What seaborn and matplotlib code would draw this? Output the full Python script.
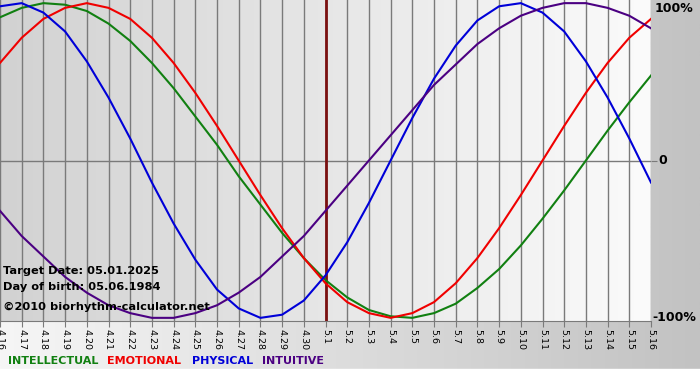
import numpy as np
import pandas as pd
import matplotlib
matplotlib.use('Agg')
import matplotlib.pyplot as plt
import seaborn as sns

# Day labels (month.day), target date 5.1 in the middle
day_labels = ['4.16', '4.17', '4.18', '4.19', '4.20', '4.21', '4.22', '4.23', '4.24', '4.25',
              '4.26', '4.27', '4.28', '4.29', '4.30', '5.1', '5.2', '5.3', '5.4', '5.5',
              '5.6', '5.7', '5.8', '5.9', '5.10', '5.11', '5.12', '5.13', '5.14', '5.15', '5.16']

# Rhythm values (-1 .. 1)
intellectual = [0.91, 0.97, 1.00, 0.99, 0.95, 0.87, 0.76, 0.62, 0.46, 0.28, 0.10, -0.10, -0.28, -0.46,
                -0.62, -0.76, -0.87, -0.95, -0.99, -1.00, -0.97, -0.91, -0.81, -0.69, -0.54, -0.37,
                -0.19, 0.00, 0.19, 0.37, 0.54]
emotional = [0.62, 0.78, 0.90, 0.97, 1.00, 0.97, 0.90, 0.78, 0.62, 0.43, 0.22, 0.00, -0.22, -0.43,
             -0.62, -0.78, -0.90, -0.97, -1.00, -0.97, -0.90, -0.78, -0.62, -0.43, -0.22, 0.00,
             0.22, 0.43, 0.62, 0.78, 0.90]
physical = [0.98, 1.00, 0.94, 0.82, 0.63, 0.40, 0.14, -0.14, -0.40, -0.63, -0.82, -0.94, -1.00, -0.98,
            -0.89, -0.73, -0.52, -0.27, 0.00, 0.27, 0.52, 0.73, 0.89, 0.98, 1.00, 0.94, 0.82, 0.63,
            0.40, 0.14, -0.14]
intuitive = [-0.32, -0.48, -0.61, -0.74, -0.84, -0.92, -0.97, -1.00, -1.00, -0.97, -0.92, -0.84, -0.74,
             -0.61, -0.48, -0.32, -0.16, 0.00, 0.16, 0.32, 0.48, 0.61, 0.74, 0.84, 0.92, 0.97, 1.00,
             1.00, 0.97, 0.92, 0.84]

rhythm_names = ['INTELLECTUAL', 'EMOTIONAL', 'PHYSICAL', 'INTUITIVE']
colors = {'INTELLECTUAL': '#118011', 'EMOTIONAL': '#f00000', 'PHYSICAL': '#0000d8', 'INTUITIVE': '#4b0082'}

target_idx = day_labels.index('5.1')
days = np.arange(len(day_labels)) - target_idx

df = pd.concat([
    pd.DataFrame({'day': days, 'value': vals, 'rhythm': name})
    for name, vals in zip(rhythm_names, [intellectual, emotional, physical, intuitive])
])

fig = plt.figure(figsize=(7, 3.8), dpi=100)

# outer background: light on the left, grey on the right
bg = fig.add_axes([0, 0, 1, 1])
grad = np.linspace(0, 1, 256).reshape(1, -1)
bg.imshow(grad, cmap=matplotlib.colors.LinearSegmentedColormap.from_list('o', ['#f6f6f6', '#c2c2c2']),
          aspect='auto', extent=[0, 1, 0, 1])
bg.axhspan(0, 0.03, color='white')
bg.set_xlim(0, 1)
bg.set_ylim(0, 1)
bg.axis('off')

ax = fig.add_axes([0, 59 / 380, 651 / 700, 321 / 380])
ymin, ymax = -1.02, 1.02
ax.imshow(grad, cmap=matplotlib.colors.LinearSegmentedColormap.from_list('i', ['#d2d2d2', '#fbfbfb']),
          aspect='auto', extent=[days[0], days[-1], ymin, ymax], zorder=0)

for d in days:
    ax.axvline(d, color='#7a7a7a', lw=1, zorder=1)
ax.axhline(0, color='#7a7a7a', lw=1, zorder=1)
ax.axvline(0, color='#7a1010', lw=2, zorder=1)

sns.lineplot(data=df, x='day', y='value', hue='rhythm', palette=colors, hue_order=rhythm_names,
             linewidth=1.5, legend=False, ax=ax, zorder=3)

ax.set_xlim(days[0], days[-1])
ax.set_ylim(ymin, ymax)
ax.set_xlabel('')
ax.set_ylabel('')
ax.set_xticks(days)
ax.set_xticklabels(day_labels, rotation=270, fontsize=6.8, va='top', ha='center')
ax.tick_params(axis='x', length=4, color='#7a7a7a', pad=2)
ax.set_yticks([0])
ax.yaxis.tick_right()
ax.tick_params(axis='y', length=4, color='#7a7a7a', labelright=False)
for s in ['top', 'left', 'right']:
    ax.spines[s].set_visible(False)
ax.spines['bottom'].set_color('#7a7a7a')

ytr = ax.get_yaxis_transform()
ax.text(1.005, 1.01, '100%', transform=ytr, fontsize=9, fontweight='bold', va='top', ha='left')
ax.text(1.012, 0.0, '0', transform=ytr, fontsize=9, fontweight='bold', va='center', ha='left')
ax.text(1.002, -1.0, '-100%', transform=ytr, fontsize=9, fontweight='bold', va='center', ha='left')

ax.text(0.005, 0.156, 'Target Date: 05.01.2025', transform=ax.transAxes, fontsize=8.2,
        fontweight='bold', va='center', zorder=5)
ax.text(0.005, 0.106, 'Day of birth: 05.06.1984', transform=ax.transAxes, fontsize=8.2,
        fontweight='bold', va='center', zorder=5)
ax.text(0.005, 0.044, '\u00a92010 biorhythm-calculator.net', transform=ax.transAxes, fontsize=8.2,
        fontweight='bold', va='center', zorder=5)

legend_x = [8, 107, 192, 262]
for name, lx in zip(rhythm_names, legend_x):
    fig.text(lx / 700, 1 - 361 / 380, name, color=colors[name], fontsize=8, fontweight='bold',
             va='center', ha='left')

fig.savefig('out.png', dpi=100)
